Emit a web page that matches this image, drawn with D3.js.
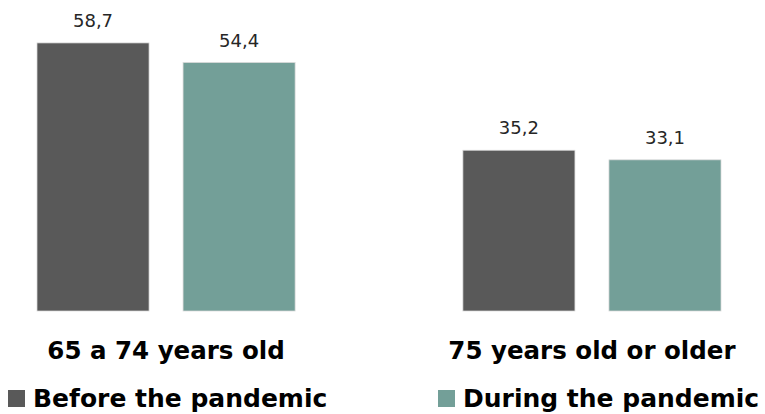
<!DOCTYPE html>
<html>
<head>
<meta charset="utf-8">
<script src="https://cdn.jsdelivr.net/npm/d3@7"></script>
<style>
  body { margin: 0; background: #fff; }
  svg { display: block; font-family: "DejaVu Sans", sans-serif; }
</style>
</head>
<body>
<svg width="765" height="414"></svg>
<script>
// chart data
var groups = ["65 a 74 years old", "75 years old or older"];
var series = ["Before the pandemic", "During the pandemic"];
var before = [58.7, 35.2];
var during = [54.4, 33.1];
var colors = ["#595959", "#739f98"];

var svg = d3.select("svg");

var rows = groups.map(function(g, i) {
  return { group: g, values: [before[i], during[i]] };
});

var x0 = d3.scaleBand()
    .domain(groups)
    .range([10, 748])
    .paddingInner(0.394)
    .paddingOuter(0.0634);

var x1 = d3.scaleBand()
    .domain(series)
    .range([0, x0.bandwidth()])
    .paddingInner(0.233);

var y = d3.scaleLinear()
    .domain([0, 60])
    .range([311, 37]);

// decimal comma
var fmt = function(v) { return d3.format(".1f")(v).replace(".", ","); };

var grp = svg.append("g")
  .selectAll("g")
  .data(rows)
  .enter().append("g")
    .attr("transform", function(d) { return "translate(" + x0(d.group) + ",0)"; });

var cells = grp.selectAll("g")
  .data(function(d) { return d.values.map(function(v, i) { return { s: series[i], v: v, i: i }; }); })
  .enter().append("g");

cells.append("rect")
    .attr("x", function(d) { return x1(d.s); })
    .attr("y", function(d) { return y(d.v); })
    .attr("width", x1.bandwidth())
    .attr("height", function(d) { return y(0) - y(d.v); })
    .attr("fill", function(d) { return colors[d.i]; })
    .attr("stroke", "#d9d9d9")
    .attr("stroke-width", 0.75);

cells.append("text")
    .attr("x", function(d) { return x1(d.s) + x1.bandwidth() / 2; })
    .attr("y", function(d) { return y(d.v) - 16; })
    .attr("text-anchor", "middle")
    .attr("font-size", 18)
    .attr("fill", "#262626")
    .text(function(d) { return fmt(d.v); });

// category labels
svg.append("g")
  .selectAll("text")
  .data(groups)
  .enter().append("text")
    .attr("x", function(d) { return x0(d) + x0.bandwidth() / 2; })
    .attr("y", 359)
    .attr("text-anchor", "middle")
    .attr("font-size", 24.5)
    .attr("font-weight", "bold")
    .attr("fill", "#000")
    .text(function(d) { return d; });

// legend
var legX = [8, 438];
var leg = svg.append("g")
  .selectAll("g")
  .data(series)
  .enter().append("g")
    .attr("transform", function(d, i) { return "translate(" + legX[i] + ",390)"; });

leg.append("rect")
    .attr("width", 17)
    .attr("height", 17)
    .attr("fill", function(d, i) { return colors[i]; });

leg.append("text")
    .attr("x", 25)
    .attr("y", 17)
    .attr("font-size", 25)
    .attr("font-weight", "bold")
    .attr("fill", "#000")
    .text(function(d) { return d; });
</script>
</body>
</html>
